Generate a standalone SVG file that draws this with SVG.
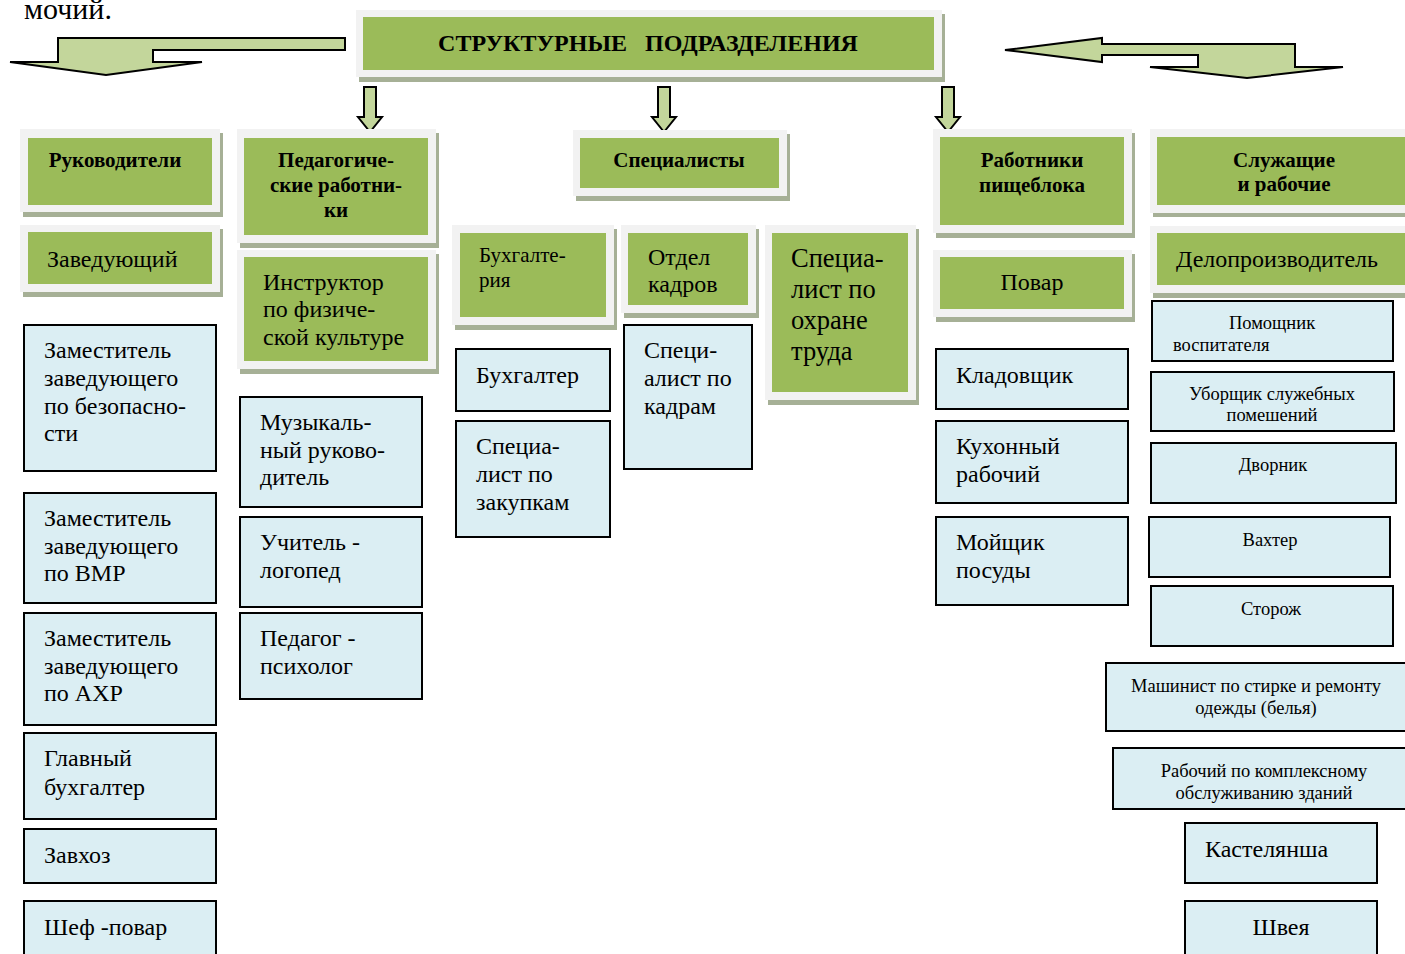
<svg xmlns="http://www.w3.org/2000/svg" width="1405" height="954" viewBox="0 0 1405 954">
<style>
.sh{fill:#a6b096}
.fr{fill:#f2f2f2}
.gr{fill:#9bbb59}
.bx{fill:#dbeef3;stroke:#000;stroke-width:2}
.ar{fill:#c3d69b;stroke:#000;stroke-width:2;stroke-linejoin:miter}
text{font-family:"Liberation Serif","Times New Roman",serif;fill:#000}
.h{font-weight:bold;font-size:21px;text-anchor:middle}
.t{font-size:24px}
.s{font-size:18.5px}
.c{text-anchor:middle}
</style>
<rect width="1405" height="954" fill="#fff"/>
<text x="24" y="19" style="font-size:30px">мочий.</text>

<g id="connectors">
<polygon class="ar" points="58,38 345,38 345,50 153,50 153,62 202,62 106,75 10,62 58,62"/>
<polygon class="ar" points="1005,50 1102,38 1102,44 1295,44 1295,67 1343,67 1247,78 1150,67 1198,67 1198,55 1102,55 1102,62"/>
<polygon class="ar" points="364,87 376,87 376,117 382,117 370,132 358,117 364,117"/>
<polygon class="ar" points="658,87 670,87 670,117 676,117 664,132 652,117 658,117"/>
<polygon class="ar" points="942,87 954,87 954,117 960,117 948,132 936,117 942,117"/>
</g>

<g id="n-title">
<rect class="sh" x="359" y="14" width="586" height="68"/>
<rect class="fr" x="356" y="10" width="586" height="67"/>
<rect class="gr" x="363" y="17" width="571" height="53"/>
<text class="h" x="648" y="51" style="font-size:24px" xml:space="preserve">СТРУКТУРНЫЕ   ПОДРАЗДЕЛЕНИЯ</text>
</g>

<g id="n-ruk">
<rect class="sh" x="23" y="133" width="200" height="84"/>
<rect class="fr" x="20" y="129" width="200" height="83"/>
<rect class="gr" x="28" y="138" width="184" height="67"/>
<text class="h" x="115" y="167">Руководители</text>
</g>
<g id="n-zav">
<rect class="sh" x="23" y="229" width="200" height="68"/>
<rect class="fr" x="20" y="225" width="200" height="67"/>
<rect class="gr" x="28" y="232" width="184" height="52"/>
<text class="t" x="47" y="267">Заведующий</text>
</g>

<g id="n-ped">
<rect class="sh" x="240" y="133" width="199" height="115"/>
<rect class="fr" x="237" y="129" width="199" height="114"/>
<rect class="gr" x="244" y="138" width="184" height="97"/>
<text class="h" x="336" y="167">Педагогиче-</text>
<text class="h" x="336" y="192">ские работни-</text>
<text class="h" x="336" y="217">ки</text>
</g>
<g id="n-instr">
<rect class="sh" x="240" y="254" width="199" height="120"/>
<rect class="fr" x="237" y="250" width="199" height="119"/>
<rect class="gr" x="244" y="257" width="184" height="104"/>
<text class="t" x="263" y="290">Инструктор</text>
<text class="t" x="263" y="317">по физиче-</text>
<text class="t" x="263" y="345">ской культуре</text>
</g>

<g id="n-spec">
<rect class="sh" x="576" y="134" width="214" height="67"/>
<rect class="fr" x="573" y="130" width="214" height="66"/>
<rect class="gr" x="580" y="138" width="199" height="50"/>
<text class="h" x="679" y="167">Специалисты</text>
</g>
<g id="n-buhg">
<rect class="sh" x="455" y="229" width="162" height="101"/>
<rect class="fr" x="452" y="225" width="162" height="100"/>
<rect class="gr" x="460" y="233" width="146" height="84"/>
<text x="479" y="262" style="font-size:21px">Бухгалте-</text>
<text x="479" y="287" style="font-size:21px">рия</text>
</g>
<g id="n-kadr">
<rect class="sh" x="624" y="229" width="135" height="89"/>
<rect class="fr" x="621" y="225" width="135" height="88"/>
<rect class="gr" x="628" y="233" width="120" height="72"/>
<text class="t" x="648" y="265">Отдел</text>
<text class="t" x="648" y="292">кадров</text>
</g>
<g id="n-ohr">
<rect class="sh" x="768" y="229" width="151" height="176"/>
<rect class="fr" x="765" y="225" width="151" height="175"/>
<rect class="gr" x="772" y="233" width="136" height="159"/>
<text x="791" y="267" style="font-size:26.5px">Специа-</text>
<text x="791" y="298" style="font-size:26.5px">лист по</text>
<text x="791" y="329" style="font-size:26.5px">охране</text>
<text x="791" y="360" style="font-size:26.5px">труда</text>
</g>

<g id="n-pish">
<rect class="sh" x="936" y="133" width="199" height="105"/>
<rect class="fr" x="933" y="129" width="199" height="104"/>
<rect class="gr" x="940" y="137" width="184" height="88"/>
<text class="h" x="1032" y="167">Работники</text>
<text class="h" x="1032" y="192">пищеблока</text>
</g>
<g id="n-povar">
<rect class="sh" x="936" y="254" width="199" height="68"/>
<rect class="fr" x="933" y="250" width="199" height="67"/>
<rect class="gr" x="940" y="257" width="184" height="52"/>
<text class="t c" x="1032" y="290">Повар</text>
</g>

<g id="n-sluzh">
<rect class="sh" x="1153" y="133" width="260" height="84"/>
<rect class="fr" x="1150" y="129" width="260" height="84"/>
<rect class="gr" x="1157" y="137" width="260" height="68"/>
<text class="h" x="1284" y="167">Служащие</text>
<text class="h" x="1284" y="191">и рабочие</text>
</g>
<g id="n-delo">
<rect class="sh" x="1153" y="230" width="260" height="68"/>
<rect class="fr" x="1150" y="226" width="260" height="67"/>
<rect class="gr" x="1157" y="233" width="260" height="52"/>
<text class="t c" x="1277" y="267">Делопроизводитель</text>
</g>

<g id="n-zam1"><rect class="bx" x="24" y="325" width="192" height="146"/>
<text class="t" x="44" y="358">Заместитель</text><text class="t" x="44" y="386">заведующего</text><text class="t" x="44" y="414">по безопасно-</text><text class="t" x="44" y="441">сти</text></g>
<g id="n-zam2"><rect class="bx" x="24" y="493" width="192" height="110"/>
<text class="t" x="44" y="526">Заместитель</text><text class="t" x="44" y="554">заведующего</text><text class="t" x="44" y="581">по ВМР</text></g>
<g id="n-zam3"><rect class="bx" x="24" y="613" width="192" height="112"/>
<text class="t" x="44" y="646">Заместитель</text><text class="t" x="44" y="674">заведующего</text><text class="t" x="44" y="701">по АХР</text></g>
<g id="n-glb"><rect class="bx" x="24" y="733" width="192" height="86"/>
<text class="t" x="44" y="766">Главный</text><text class="t" x="44" y="795">бухгалтер</text></g>
<g id="n-zavhoz"><rect class="bx" x="24" y="829" width="192" height="54"/>
<text class="t" x="44" y="863">Завхоз</text></g>
<g id="n-shef"><rect class="bx" x="24" y="901" width="192" height="60"/>
<text class="t" x="44" y="935">Шеф -повар</text></g>

<g id="n-muz"><rect class="bx" x="240" y="397" width="182" height="110"/>
<text class="t" x="260" y="430">Музыкаль-</text><text class="t" x="260" y="458">ный руково-</text><text class="t" x="260" y="485">дитель</text></g>
<g id="n-log"><rect class="bx" x="240" y="517" width="182" height="90"/>
<text class="t" x="260" y="550">Учитель -</text><text class="t" x="260" y="578">логопед</text></g>
<g id="n-psi"><rect class="bx" x="240" y="613" width="182" height="86"/>
<text class="t" x="260" y="646">Педагог -</text><text class="t" x="260" y="674">психолог</text></g>

<g id="n-buhgalter"><rect class="bx" x="456" y="349" width="154" height="62"/>
<text class="t" x="476" y="383">Бухгалтер</text></g>
<g id="n-zak"><rect class="bx" x="456" y="421" width="154" height="116"/>
<text class="t" x="476" y="454">Специа-</text><text class="t" x="476" y="482">лист по</text><text class="t" x="476" y="510">закупкам</text></g>
<g id="n-speckadr"><rect class="bx" x="624" y="325" width="128" height="144"/>
<text class="t" x="644" y="358">Специ-</text><text class="t" x="644" y="386">алист по</text><text class="t" x="644" y="414">кадрам</text></g>

<g id="n-klad"><rect class="bx" x="936" y="349" width="192" height="60"/>
<text class="t" x="956" y="383">Кладовщик</text></g>
<g id="n-kuh"><rect class="bx" x="936" y="421" width="192" height="82"/>
<text class="t" x="956" y="454">Кухонный</text><text class="t" x="956" y="482">рабочий</text></g>
<g id="n-moi"><rect class="bx" x="936" y="517" width="192" height="88"/>
<text class="t" x="956" y="550">Мойщик</text><text class="t" x="956" y="578">посуды</text></g>

<g id="n-pom"><rect class="bx" x="1152" y="301" width="241" height="60"/>
<text class="s c" x="1272" y="329">Помощник</text><text class="s" x="1173" y="351">воспитателя</text></g>
<g id="n-ubor"><rect class="bx" x="1151" y="372" width="243" height="59"/>
<text class="s c" x="1272" y="400">Уборщик служебных</text><text class="s c" x="1272" y="421">помешений</text></g>
<g id="n-dvor"><rect class="bx" x="1151" y="443" width="245" height="60"/>
<text class="s c" x="1273" y="471">Дворник</text></g>
<g id="n-vaht"><rect class="bx" x="1149" y="517" width="241" height="60"/>
<text class="s c" x="1270" y="546">Вахтер</text></g>
<g id="n-stor"><rect class="bx" x="1151" y="586" width="242" height="60"/>
<text class="s c" x="1271" y="615">Сторож</text></g>
<g id="n-mash"><rect class="bx" x="1106" y="663" width="310" height="68"/>
<text class="s c" x="1256" y="692">Машинист по стирке и ремонту</text><text class="s c" x="1256" y="714">одежды (белья)</text></g>
<g id="n-rab"><rect class="bx" x="1113" y="748" width="303" height="61"/>
<text class="s c" x="1264" y="777">Рабочий по комплексному</text><text class="s c" x="1264" y="799">обслуживанию зданий</text></g>
<g id="n-kast"><rect class="bx" x="1185" y="823" width="192" height="60"/>
<text class="t" x="1205" y="857">Кастелянша</text></g>
<g id="n-shveya"><rect class="bx" x="1185" y="901" width="192" height="60"/>
<text class="t c" x="1281" y="935">Швея</text></g>
</svg>
